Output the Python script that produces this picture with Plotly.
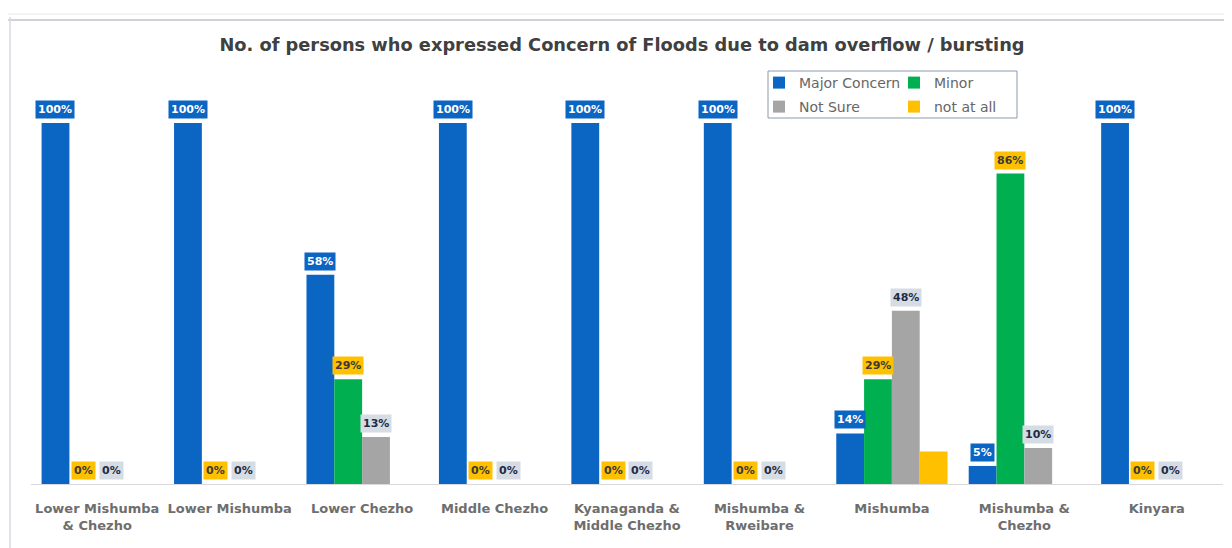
import plotly.graph_objects as go

# ---------------- data ----------------
categories = ["Lower Mishumba<br>& Chezho", "Lower Mishumba", "Lower Chezho",
              "Middle Chezho", "Kyanaganda &<br>Middle Chezho", "Mishumba &<br>Rweibare",
              "Mishumba", "Mishumba &<br>Chezho", "Kinyara"]
major_concern = [100, 100, 58, 100, 100, 100, 14, 5, 100]
minor = [0, 0, 29, 0, 0, 0, 29, 86, 0]
not_sure = [0, 0, 13, 0, 0, 0, 48, 10, 0]
not_at_all = [0, 0, 0, 0, 0, 0, 9, 0, 0]
series_names = ["Major Concern", "Minor", "Not Sure", "not at all"]
title_text = "No. of persons who expressed Concern of Floods due to dam overflow / bursting"

# ---------------- style ----------------
W, H = 1232, 548
OFF = 8  # page body margin of the html page
ML, MT = 31 - OFF, 87 - OFF
PW, PH = 1192, 397
MR, MB = W - ML - PW, H - MT - PH
BARGAP = 0.16
colors = ["#0B65C3", "#00B050", "#A5A5A5", "#FFC000"]
label_bg = ["#0B65C3", "#FFC000", "#D6DCE4", None]
label_fg = ["#FFFFFF", "#3A3A3A", "#1F2A44", None]
FONT = "DejaVu Sans, Verdana, sans-serif"


def px2x(sx):
    return (sx - OFF - ML) / PW


def px2y(sy):
    return 1 - (sy - OFF - MT) / PH


series = [major_concern, minor, not_sure, not_at_all]
legend_ids = ["legend", "legend", "legend2", "legend2"]

fig = go.Figure()
for name, vals, col, lg in zip(series_names, series, colors, legend_ids):
    fig.add_trace(go.Bar(name=name, x=categories, y=vals, marker_color=col,
                         marker_line_width=0, legend=lg))

# data labels with boxes (annotations anchored to the bar values)
bar_px = PW / len(categories) * (1 - BARGAP) / 4
for si in range(3):
    offset = (si - 1.5) * bar_px
    for cat, v in zip(categories, series[si]):
        fig.add_annotation(x=cat, y=v, xref="x", yref="y", text=f"<b>{v}%</b>",
                           showarrow=False, yanchor="bottom", xshift=offset, yshift=4,
                           bgcolor=label_bg[si], borderpad=2,
                           font=dict(family=FONT, size=11, color=label_fg[si]))

# legend frame and screenshot borders
shapes = [
    dict(type="rect", xref="paper", yref="paper", x0=px2x(768), x1=px2x(1017),
         y0=px2y(118), y1=px2y(71), line=dict(color="#8C9AAE", width=1)),
    dict(type="line", xref="paper", yref="paper", x0=px2x(0), x1=px2x(1240),
         y0=px2y(20), y1=px2y(20), line=dict(color="#BFC5CC", width=1.5)),
    dict(type="line", xref="paper", yref="paper", x0=px2x(0), x1=px2x(1240),
         y0=px2y(14), y1=px2y(14), line=dict(color="#E6E8EA", width=1)),
    dict(type="line", xref="paper", yref="paper", x0=px2x(10), x1=px2x(10),
         y0=px2y(17), y1=px2y(556), line=dict(color="#D5DADF", width=1.5)),
]

legend_common = dict(orientation="h", xanchor="left", yanchor="top",
                     bgcolor="rgba(0,0,0,0)", borderwidth=0, itemwidth=30,
                     font=dict(family=FONT, size=14, color="#666666"),
                     entrywidth=90, itemclick=False, itemdoubleclick=False)

title_x = (622 - OFF) / W
fig.update_layout(
    width=W, height=H,
    margin=dict(l=ML, r=MR, t=MT, b=MB),
    paper_bgcolor="white", plot_bgcolor="white",
    barmode="group", bargap=BARGAP, bargroupgap=0,
    title=dict(text=title_text, x=title_x, xanchor="center",
               y=1 - (45 - OFF) / H, yanchor="middle",
               font=dict(family=FONT, size=17.8, color="#404040", weight="bold")),
    xaxis=dict(showline=True, linecolor="#D9D9D9", linewidth=1, ticks="",
               ticklabelstandoff=12,
               tickfont=dict(family=FONT, size=13, color="#6E6E6E", weight="bold"),
               showgrid=False),
    yaxis=dict(range=[0, 110], showticklabels=False, showgrid=False,
               zeroline=False, showline=False, ticks=""),
    legend=dict(x=px2x(759), y=px2y(67), **legend_common),
    legend2=dict(x=px2x(759), y=px2y(91), **legend_common),
    shapes=shapes,
    showlegend=True,
)

fig.write_html("out.html")
